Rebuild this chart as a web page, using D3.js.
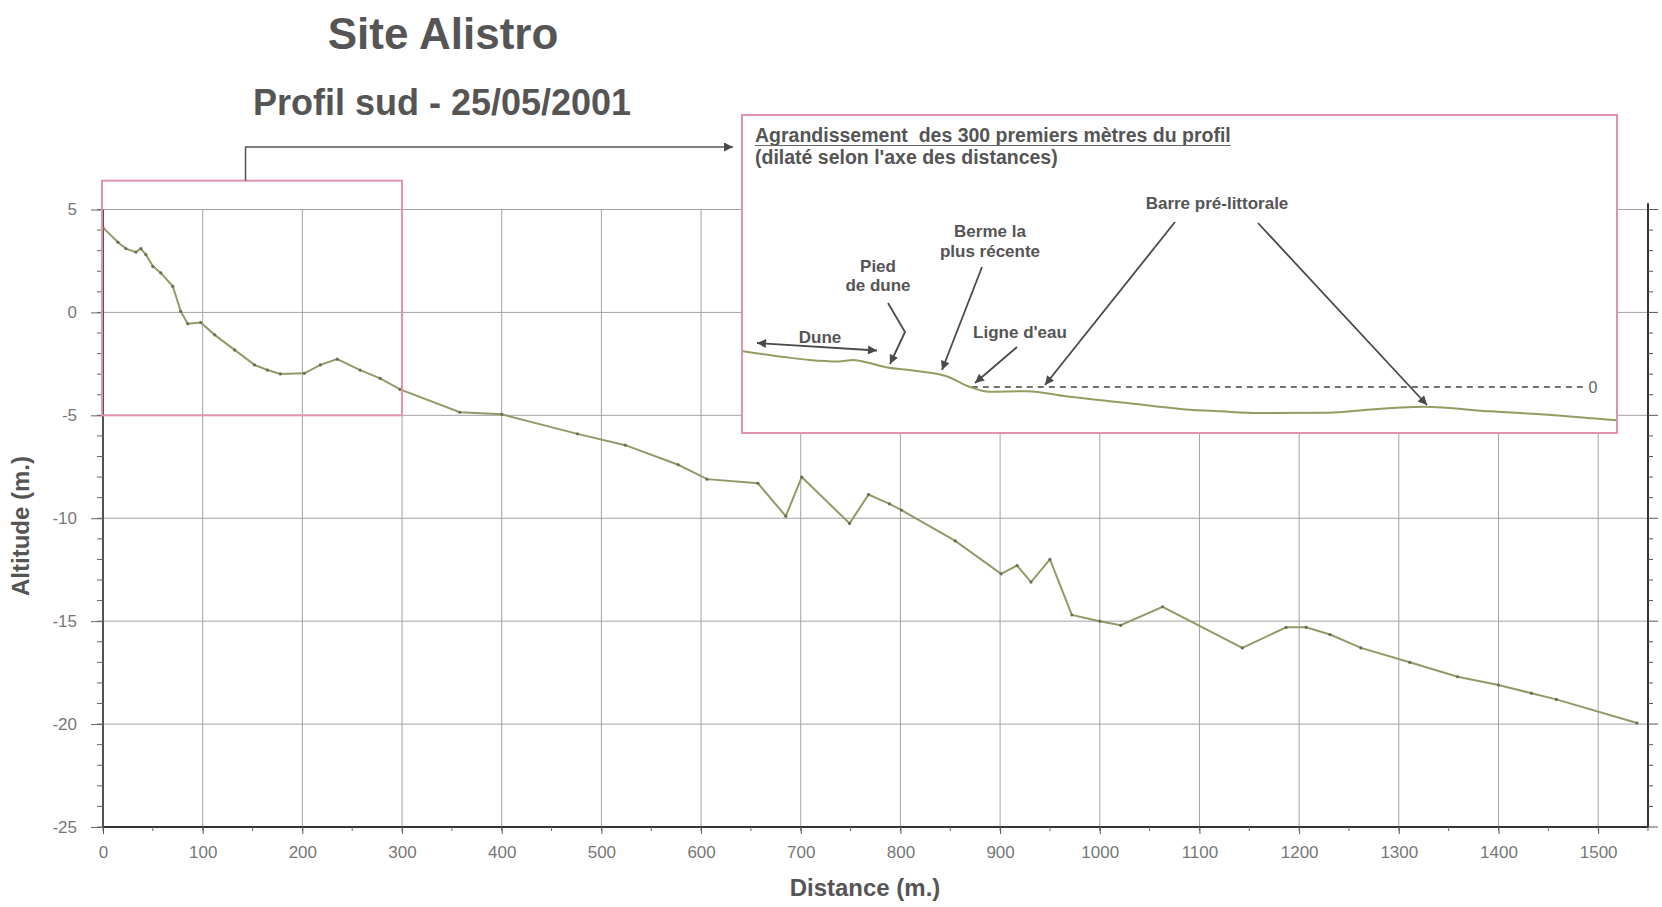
<!DOCTYPE html>
<html>
<head>
<meta charset="utf-8">
<script src="https://cdn.jsdelivr.net/npm/d3@7"></script>
<style>
body { margin: 0; background: #fff; }
text { font-family: "Liberation Sans", Arial, sans-serif; }
.tick-label { font-family: "Liberation Sans Narrow", "Arial Narrow", "Liberation Sans", Arial, sans-serif; font-stretch: condensed; }
</style>
</head>
<body>
<svg id="chart" width="1662" height="907"></svg>
<script>
// profile readings (distance in m, altitude in m)
var distances = [0, 15, 23, 33, 38, 43, 50, 58, 70, 78,
                 85, 98, 112, 132, 152, 165, 178, 202, 218, 235,
                 258, 278, 298, 358, 400, 476, 524, 577, 606, 657,
                 685, 701, 749, 768, 789, 801, 855, 901, 917, 931,
                 950, 972, 1000, 1021, 1063, 1143, 1187, 1207, 1231, 1262,
                 1311, 1359, 1400, 1433, 1458, 1539];
var altitudes = [4.12, 3.41, 3.1, 2.93, 3.1, 2.81, 2.24, 1.92, 1.27, 0.05,
                 -0.55, -0.49, -1.09, -1.82, -2.55, -2.8, -2.99, -2.96, -2.55, -2.27,
                 -2.8, -3.2, -3.74, -4.85, -4.95, -5.9, -6.45, -7.4, -8.1, -8.3,
                 -9.9, -8.0, -10.25, -8.85, -9.3, -9.6, -11.1, -12.7, -12.3, -13.1,
                 -12.0, -14.7, -15.0, -15.2, -14.3, -16.3, -15.3, -15.3, -15.65, -16.3,
                 -17.0, -17.7, -18.1, -18.5, -18.8, -19.95];
var xTicks = d3.range(0, 1501, 100);
var xMinorTicks = d3.range(0, 1551, 50);
var yTicks = [5, 0, -5, -10, -15, -20, -25];
var yMinorTicks = d3.range(-25, 6, 1);
var zoomExtent = [0, 300];        // first 300 m shown enlarged
var zoomAlt = [6.4, -5];

var points = distances.map(function(d, i) { return {x: d, y: altitudes[i]}; });

var svg = d3.select("#chart");

var x = d3.scaleLinear().domain([0, 1550]).range([103, 1648]);
var y = d3.scaleLinear().domain([5, -25]).range([209.5, 827]);
var plain = function(d) { return String(d); };

// titles
svg.append("text").attr("x", 443).attr("y", 49).attr("text-anchor", "middle")
   .style("font-size", "44px").style("font-weight", "bold").style("fill", "#555")
   .text("Site Alistro");
svg.append("text").attr("x", 442).attr("y", 115).attr("text-anchor", "middle")
   .style("font-size", "36px").style("font-weight", "bold").style("fill", "#555")
   .text("Profil sud - 25/05/2001");

// grid
var grid = svg.append("g").attr("class", "grid");
grid.selectAll("line.v").data(xTicks).enter().append("line")
    .attr("x1", function(d) { return x(d); }).attr("x2", function(d) { return x(d); })
    .attr("y1", y(5)).attr("y2", y(-25))
    .style("stroke", "#a4a4a4").style("stroke-width", 1);
grid.selectAll("line.h").data(yTicks.slice(0, -1)).enter().append("line")
    .attr("x1", x(0)).attr("x2", x(1550))
    .attr("y1", function(d) { return y(d); }).attr("y2", function(d) { return y(d); })
    .style("stroke", "#a4a4a4").style("stroke-width", 1);

// axes
var xAxis = d3.axisBottom(x).tickValues(xTicks).tickFormat(plain).tickSize(7).tickPadding(12);
var gx = svg.append("g").attr("transform", "translate(0," + y(-25) + ")").call(xAxis);
gx.select(".domain").attr("d", "M" + x(0) + ",0H" + x(1550)).style("stroke", "#333").style("stroke-width", 2.2);
gx.selectAll(".tick line").style("stroke", "#555");
gx.selectAll(".tick text").attr("class", "tick-label").style("font-size", "17px").style("fill", "#777");
gx.selectAll("line.minor").data(xMinorTicks).enter().append("line")
  .attr("x1", function(d) { return x(d); }).attr("x2", function(d) { return x(d); })
  .attr("y1", 0).attr("y2", 4).style("stroke", "#666");

var yAxis = d3.axisLeft(y).tickValues(yTicks).tickFormat(plain).tickSize(12).tickPadding(14);
var gy = svg.append("g").attr("transform", "translate(" + x(0) + ",0)").call(yAxis);
gy.select(".domain").attr("d", "M0," + y(5) + "V" + y(-25)).style("stroke", "#444").style("stroke-width", 1.8);
gy.selectAll(".tick line").style("stroke", "#666");
gy.selectAll(".tick text").attr("class", "tick-label").style("font-size", "17px").style("fill", "#777");
gy.selectAll("line.minor").data(yMinorTicks).enter().append("line")
  .attr("x1", -6).attr("x2", 0)
  .attr("y1", function(d) { return y(d); }).attr("y2", function(d) { return y(d); })
  .style("stroke", "#666");

// right axis
var gr = svg.append("g").attr("transform", "translate(" + x(1550) + ",0)");
gr.append("line").attr("y1", y(5.3)).attr("y2", y(-25)).style("stroke", "#333").style("stroke-width", 2);
gr.selectAll("line.minor").data(yMinorTicks).enter().append("line")
  .attr("x1", 0).attr("x2", function(d) { return d % 5 === 0 ? 10 : 5; })
  .attr("y1", function(d) { return y(d); }).attr("y2", function(d) { return y(d); })
  .style("stroke", "#555");

svg.append("text").attr("x", 865).attr("y", 896).attr("text-anchor", "middle")
   .style("font-size", "24px").style("font-weight", "bold").style("fill", "#555")
   .text("Distance (m.)");
svg.append("text").attr("transform", "translate(29,526) rotate(-90)").attr("text-anchor", "middle")
   .style("font-size", "24px").style("font-weight", "bold").style("fill", "#555")
   .text("Altitude (m.)");

// profile line
var line = d3.line().x(function(d) { return x(d.x); }).y(function(d) { return y(d.y); });
svg.append("path").datum(points).attr("d", line)
   .style("fill", "none").style("stroke", "#979868").style("stroke-width", 2);
svg.selectAll("circle.pt").data(points).enter().append("circle")
   .attr("cx", function(d) { return x(d.x); }).attr("cy", function(d) { return y(d.y); })
   .attr("r", 1.6).style("fill", "#6d6d55");

// zoom frame on first 300 m
svg.append("rect")
   .attr("x", x(zoomExtent[0]) - 1).attr("y", y(zoomAlt[0]))
   .attr("width", x(zoomExtent[1]) - x(zoomExtent[0]) + 1).attr("height", y(zoomAlt[1]) - y(zoomAlt[0]))
   .style("fill", "none").style("stroke", "#e393a8").style("stroke-width", 2);

// arrowhead markers
var defs = svg.append("defs");
defs.append("marker").attr("id", "head").attr("viewBox", "0 0 10 10")
    .attr("refX", 10).attr("refY", 5).attr("markerWidth", 11).attr("markerHeight", 9)
    .attr("markerUnits", "userSpaceOnUse").attr("orient", "auto-start-reverse")
    .append("path").attr("d", "M0,0L10,5L0,10z").style("fill", "#4a4a4a");

// connector to inset
var cx0 = x(143);
svg.append("path")
   .attr("d", "M" + cx0 + "," + y(zoomAlt[0]) + "V147H733")
   .style("fill", "none").style("stroke", "#555").style("stroke-width", 1.5)
   .attr("marker-end", "url(#head)");

// inset
var inset = {x: 742, y: 115, w: 875, h: 318};
var gi = svg.append("g");
gi.append("rect").attr("x", inset.x).attr("y", inset.y).attr("width", inset.w).attr("height", inset.h)
  .style("fill", "#fff").style("stroke", "#e393a8").style("stroke-width", 2);
defs.append("clipPath").attr("id", "insetClip").append("rect")
    .attr("x", inset.x + 1).attr("y", inset.y + 1).attr("width", inset.w - 2).attr("height", inset.h - 2);

var xi = d3.scaleLinear().domain(zoomExtent).range([743, 1612]);
var yi = d3.scaleLinear().domain([0, -4]).range([387, 421.8]);

var head1 = gi.append("text").attr("x", 755).attr("y", 142)
  .style("font-size", "19.5px").style("font-weight", "bold").style("fill", "#555")
  .style("white-space", "pre")
  .text("Agrandissement  des 300 premiers mètres du profil");
var hw = head1.node().getComputedTextLength();
gi.append("line").attr("x1", 755).attr("x2", 755 + hw).attr("y1", 145.5).attr("y2", 145.5)
  .style("stroke", "#666").style("stroke-width", 1.2);
gi.append("text").attr("x", 755).attr("y", 164)
  .style("font-size", "19.5px").style("font-weight", "bold").style("fill", "#555")
  .text("(dilaté selon l'axe des distances)");

// water line (altitude 0) from the shoreline point seaward
gi.append("line").attr("x1", xi(79)).attr("x2", 1583).attr("y1", yi(0)).attr("y2", yi(0))
  .style("stroke", "#444").style("stroke-width", 1.6).style("stroke-dasharray", "6,5");
gi.append("text").attr("x", 1593).attr("y", yi(0) + 6).attr("text-anchor", "middle")
  .style("font-size", "16px").style("fill", "#666").text("0");

var linei = d3.line().x(function(d) { return xi(d.x); }).y(function(d) { return yi(d.y); })
              .curve(d3.curveMonotoneX);
gi.append("path").datum(points.filter(function(d) { return d.x <= 360; })).attr("d", linei)
  .attr("clip-path", "url(#insetClip)")
  .style("fill", "none").style("stroke", "#949c64").style("stroke-width", 2);

// annotations in the inset
var labels = [
  {t: "Barre pré-littorale", x: 1217, y: 209},
  {t: "Berme la", x: 990, y: 237},
  {t: "plus récente", x: 990, y: 257},
  {t: "Pied", x: 878, y: 272},
  {t: "de dune", x: 878, y: 291},
  {t: "Dune", x: 820, y: 343},
  {t: "Ligne d'eau", x: 1020, y: 338}
];
gi.selectAll("text.lab").data(labels).enter().append("text")
  .attr("x", function(d) { return d.x; }).attr("y", function(d) { return d.y; })
  .attr("text-anchor", "middle")
  .style("font-size", "17px").style("font-weight", "bold").style("fill", "#555")
  .text(function(d) { return d.t; });

var arrows = [
  {pts: [[757, 343], [877, 350.5]], both: true},
  {pts: [[888, 303], [905, 332], [890, 364]]},
  {pts: [[982, 267], [942, 370]]},
  {pts: [[1017, 347], [975, 383]]},
  {pts: [[1175, 222], [1045, 385]]},
  {pts: [[1258, 223], [1427, 405]]}
];
gi.selectAll("path.arr").data(arrows).enter().append("path")
  .attr("d", function(d) { return d3.line()(d.pts); })
  .attr("marker-end", "url(#head)")
  .attr("marker-start", function(d) { return d.both ? "url(#head)" : null; })
  .style("fill", "none").style("stroke", "#4a4a4a").style("stroke-width", 1.8);
</script>
</body>
</html>
